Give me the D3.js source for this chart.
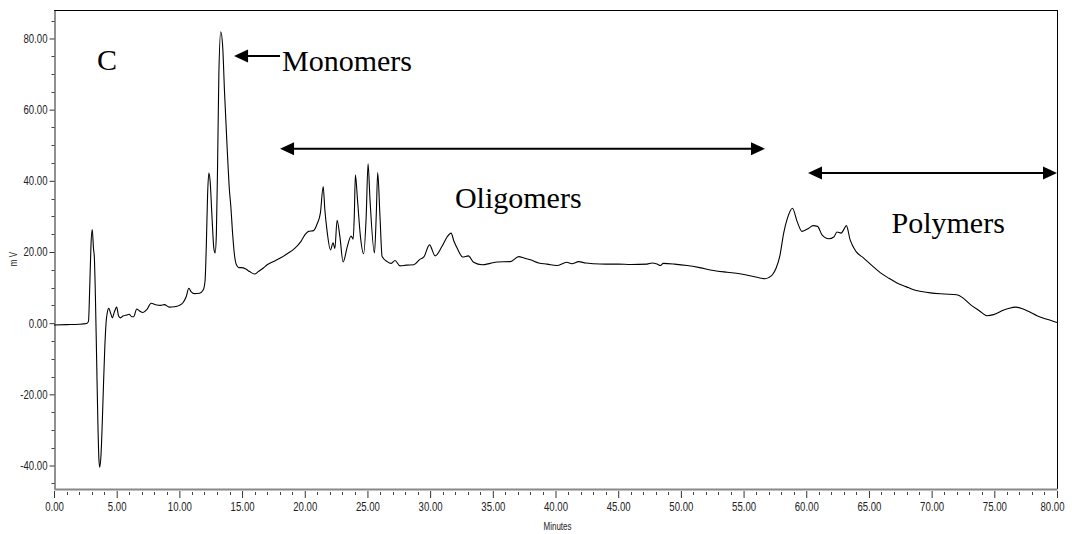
<!DOCTYPE html>
<html>
<head>
<meta charset="utf-8">
<script src="https://cdn.jsdelivr.net/npm/d3@7"></script>
<style>
  html, body { margin: 0; padding: 0; background: #fff; }
  svg { display: block; }
</style>
</head>
<body>
<svg id="chart" width="1072" height="534"></svg>
<script>
// ---- data (minutes, mV) ----
const minutes = [0.0,1.0,2.0,2.6,2.75,2.85,2.95,3.05,3.15,3.22,3.3,3.4,3.5,3.58,3.65,3.75,3.85,3.95,4.05,4.15,4.25,4.37,4.5,4.65,4.8,5.0,5.15,5.3,5.5,5.8,6.0,6.2,6.35,6.6,6.8,7.1,7.4,7.75,8.1,8.5,8.8,9.2,9.6,10.0,10.3,10.55,10.75,10.95,11.2,11.6,11.9,12.05,12.15,12.25,12.35,12.45,12.6,12.75,12.85,12.95,13.05,13.15,13.3,13.45,13.6,13.8,14.0,14.1,14.25,14.4,14.55,14.75,14.95,15.3,15.6,16.0,16.3,16.7,17.0,17.5,18.05,18.6,19.2,19.7,20.05,20.3,20.7,21.0,21.25,21.47,21.6,21.8,22.05,22.26,22.4,22.58,22.8,23.06,23.4,23.7,23.86,23.95,24.04,24.2,24.44,24.7,24.9,25.05,25.2,25.56,25.7,25.82,26.0,26.17,26.57,26.9,27.2,27.6,28.1,28.7,29.2,29.5,29.95,30.4,30.95,31.35,31.67,31.9,32.15,32.6,33.05,33.47,34.15,34.8,35.35,36.4,37.07,37.5,38.0,38.66,39.33,40.1,40.9,41.3,41.85,42.4,43.05,44.0,45.0,46.0,47.3,47.7,48.1,48.37,48.6,49.5,50.5,51.5,52.6,53.7,54.7,55.5,56.3,56.7,57.0,57.3,57.6,57.9,58.2,58.5,58.9,59.27,59.66,60.2,60.54,60.9,61.26,61.8,62.2,62.45,62.78,62.98,63.2,63.5,63.98,64.58,65.2,65.9,66.6,67.24,68.0,68.56,69.2,69.9,71.0,72.0,72.5,73.1,73.8,74.4,74.95,75.7,76.2,76.7,77.3,77.9,78.4,79.2,80.0];
const signal = [-0.5,-0.4,-0.3,-0.1,0.5,10,22,26.3,21,18.3,8,-10,-28,-38,-40.5,-37,-28,-17,-7,0,3,4.2,3,1.5,3,4.5,2,1.5,2,2.3,2.5,1.8,1.8,4,3.5,3,3.8,5.6,5.2,5,5.2,4.5,4.6,5,5.8,7.5,9.8,8.8,8.3,8.4,9.3,12,22,36,42.2,40,30,21,19.7,25,45,70,81.9,78,65,50,37,33,25,19,16.4,15.6,15.6,15.2,14.5,13.8,14.5,15.5,16.4,17.3,18.3,19.5,21,23,25,25.8,26,28,31,38.4,32,25.3,20.6,22.6,20.9,28.9,24.4,17.2,21.6,24.5,23.6,30,41.7,35,24.4,19.5,30,44.8,35,19.7,30,42.3,30,18.7,17.3,16.8,17.6,16.1,16.3,16.4,18,18.6,22,18.9,21.6,24.2,25.3,23,21.1,18.6,18.9,17.1,16.4,16.8,17.2,17.3,18.7,18.3,17.8,16.9,16.6,16.2,17.1,16.7,17.3,16.9,16.7,16.6,16.6,16.5,16.6,16.9,16.6,16.2,16.8,16.6,16.2,15.6,14.8,14.3,13.9,13.3,12.7,12.5,12.8,13.6,15.5,19,25.3,29.5,32.3,28.6,25.8,26.7,27.4,27.2,24.8,23.7,24.2,25.6,25.3,26.2,27.4,23.4,20.1,18.3,16.3,14.2,12.6,11.3,10.2,9.4,8.9,8.5,8.2,8.0,7.1,5.2,3.5,2.1,2.4,3.6,4.2,4.5,4.0,3.0,2.1,1.1,0.2];

const xMajorTicks = [0,5,10,15,20,25,30,35,40,45,50,55,60,65,70,75,80];
const yMajorTicks = [-40,-20,0,20,40,60,80];
const xDomain = [0, 80];
const yDomain = [-46.6, 88];
const xTitle = "Minutes";
const yTitle = "m V";

// annotations in data units
const labels = [
  {text: "C", x: 3.43, y: 71.2},
  {text: "Monomers", x: 18.19, y: 70.9},
  {text: "Oligomers", x: 31.98, y: 32.4},
  {text: "Polymers", x: 66.8, y: 25.3}
];
const arrows = [
  {x1: 18.03, x2: 14.36, y: 75.1, heads: ["end"]},
  {x1: 18.03, x2: 56.71, y: 49.0, heads: ["start","end"]},
  {x1: 60.14, x2: 80.0, y: 42.2, heads: ["start","end"]}
];

// ---- drawing ----
(function () {
const svg = d3.select("#chart");
const mL = 54, mR = 1057, mT = 10, mB = 489;
const x = d3.scaleLinear().domain(xDomain).range([mL, mR]);
const y = d3.scaleLinear().domain(yDomain).range([mB, mT]);
const tickFont = '"Liberation Sans Narrow", "Arial Narrow", "Liberation Sans", Arial, sans-serif';
const fmt = v => d3.format(".2f")(v).replace("\u2212", "-");
const narrow = sel => sel.each(function () {
  const w = this.getComputedTextLength();
  d3.select(this).attr("textLength", w * 0.8).attr("lengthAdjust", "spacingAndGlyphs");
});

// frame (top and right)
svg.append("line").attr("x1", mL).attr("x2", mR).attr("y1", mT + 0.5).attr("y2", mT + 0.5)
  .attr("stroke", "#000").attr("stroke-width", 1);
svg.append("line").attr("x1", mR + 0.5).attr("x2", mR + 0.5).attr("y1", mT).attr("y2", mB)
  .attr("stroke", "#000").attr("stroke-width", 1);

// y axis
const yMinor = d3.range(-45, 90, 5).filter(v => !yMajorTicks.includes(v));
const yAxisG = svg.append("g").attr("transform", `translate(${mL + 0.5},0)`);
yAxisG.call(d3.axisLeft(y).tickValues(yMajorTicks).tickFormat(fmt).tickSize(5).tickPadding(2).tickSizeOuter(0));
yAxisG.select(".domain").attr("stroke", "#222");
yAxisG.selectAll(".tick line").attr("stroke", "#333");
yAxisG.selectAll(".tick text").attr("font-size", 12).attr("font-family", tickFont).attr("fill", "#222").call(narrow);
yAxisG.selectAll(".minor").data(yMinor).enter().append("line")
  .attr("class", "minor").attr("x1", -3).attr("x2", 0)
  .attr("y1", d => Math.round(y(d)) + 0.5).attr("y2", d => Math.round(y(d)) + 0.5)
  .attr("stroke", "#444");

// x axis
const xMinor = d3.range(0, 81, 1).filter(v => !xMajorTicks.includes(v));
const xAxisG = svg.append("g").attr("transform", `translate(0,${mB})`);
xAxisG.call(d3.axisBottom(x).tickValues(xMajorTicks).tickFormat(fmt).tickSize(9).tickPadding(4).tickSizeOuter(0));
xAxisG.select(".domain").attr("stroke", "#888").attr("stroke-width", 2);
xAxisG.selectAll(".tick line").attr("stroke", "#333").attr("y1", 2);
xAxisG.selectAll(".tick text").attr("font-size", 12).attr("font-family", tickFont).attr("fill", "#222").call(narrow);
// keep the last label inside the picture
xAxisG.selectAll(".tick text").filter(d => d === xDomain[1]).attr("text-anchor", "end").attr("x", 7);
xAxisG.selectAll(".minor").data(xMinor).enter().append("line")
  .attr("class", "minor").attr("y1", 3).attr("y2", 6)
  .attr("x1", d => Math.round(x(d)) + 0.5).attr("x2", d => Math.round(x(d)) + 0.5)
  .attr("stroke", "#444");

// axis titles
svg.append("text").attr("x", (mL + mR) / 2 + 2).attr("y", 530)
  .attr("text-anchor", "middle").attr("font-family", tickFont).attr("font-size", 10).attr("fill", "#222")
  .text(xTitle).call(narrow);
svg.append("text").attr("transform", `translate(17,${y(18)}) rotate(-90)`)
  .attr("text-anchor", "middle").attr("font-family", tickFont).attr("font-size", 10).attr("fill", "#222")
  .text(yTitle).call(narrow);

// trace
const pts = minutes.map((m, i) => [m, signal[i]]);
const line = d3.line().x(d => x(d[0])).y(d => y(d[1])).curve(d3.curveMonotoneX);
svg.append("path").attr("d", line(pts)).attr("fill", "none").attr("stroke", "#000").attr("stroke-width", 1.1);

// arrows
const headLen = 14, headHalf = 6.5;
arrows.forEach(a => {
  const X1 = x(a.x1), X2 = x(a.x2), Y = y(a.y);
  const dir = Math.sign(X2 - X1);
  const s = a.heads.includes("start") ? X1 + dir * headLen : X1;
  const e = a.heads.includes("end") ? X2 - dir * headLen : X2;
  svg.append("line").attr("x1", s).attr("x2", e).attr("y1", Y).attr("y2", Y)
    .attr("stroke", "#000").attr("stroke-width", 2);
  const head = (tip, d) => `M${tip},${Y} L${tip - d * headLen},${Y - headHalf} L${tip - d * headLen},${Y + headHalf} Z`;
  if (a.heads.includes("end")) svg.append("path").attr("d", head(X2, dir)).attr("fill", "#000");
  if (a.heads.includes("start")) svg.append("path").attr("d", head(X1, -dir)).attr("fill", "#000");
});

// labels
labels.forEach(l => {
  svg.append("text").attr("x", x(l.x)).attr("y", y(l.y))
    .attr("font-family", '"Liberation Serif", "Times New Roman", serif').attr("font-size", 30)
    .attr("fill", "#000").text(l.text);
});
})();
</script>
</body>
</html>
